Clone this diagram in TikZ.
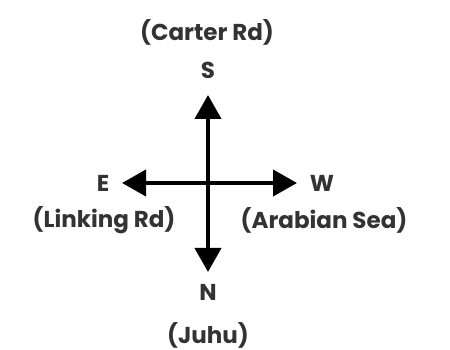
\documentclass[tikz,border=0pt]{standalone}
\usepackage{fontspec}
\setmainfont{Poppins}
\usetikzlibrary{arrows.meta}
\usetikzlibrary{positioning}

\tikzset{
  dirlabel/.style={font=\fontsize{23}{27}\selectfont\bfseries, text=black!80, inner sep=0pt},
  roadlabel/.style={font=\fontsize{23}{27}\selectfont\bfseries, text=black!80, inner sep=0pt},
  compass/.style={line width=4pt, -{Triangle[width=26pt,length=24pt]}}
}

\begin{document}
\begin{tikzpicture}[x=1pt,y=1pt]
    \useasboundingbox (0,0) rectangle (450,350);

    \coordinate (c) at (208,167);
    \coordinate (tS) at (208,255);
    \coordinate (tN) at (208,78);
    \coordinate (tE) at (122,167);
    \coordinate (tW) at (297,167);

    % Directions
    \node[dirlabel] (S) at (208,280) {S};
    \node[dirlabel] (N) at (208,58) {N};
    \node[dirlabel] (E) at (103,167) {E};
    \node[dirlabel] (W) at (322,167) {W};

    % Roads
    \node[roadlabel] (carter) at (207,318) {(Carter Rd)};
    \node[roadlabel] (juhu) at (208,15) {(Juhu)};
    \node[roadlabel] (linking) at (104,130) {(Linking Rd)};
    \node[roadlabel] (sea) at (324,130) {(Arabian Sea)};

    % Arrows
    \draw[compass] (c) -- (tS);
    \draw[compass] (c) -- (tN);
    \draw[compass] (c) -- (tE);
    \draw[compass] (c) -- (tW);
\end{tikzpicture}
\end{document}
